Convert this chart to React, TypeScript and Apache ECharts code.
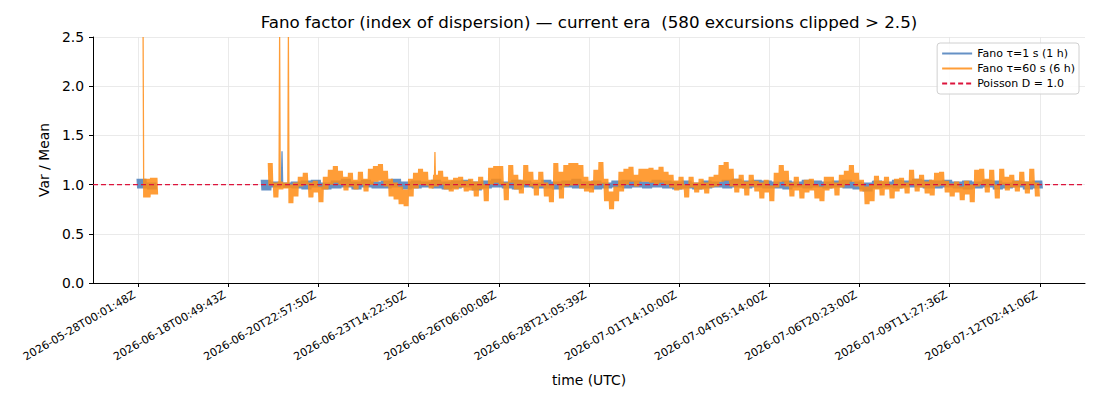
import React, { useEffect, useRef } from "react";
import * as echarts from "echarts";

// x tick labels (one every 90 samples, starting at sample 0)
const tickLabels = [
  "2026-05-28T00:01:48Z",
  "2026-06-18T00:49:43Z",
  "2026-06-20T22:57:50Z",
  "2026-06-23T14:22:50Z",
  "2026-06-26T06:00:08Z",
  "2026-06-28T21:05:39Z",
  "2026-07-01T14:10:00Z",
  "2026-07-04T05:14:00Z",
  "2026-07-06T20:23:00Z",
  "2026-07-09T11:27:36Z",
  "2026-07-12T02:41:06Z",
];
const tickStep = 90;

// Fano tau=1 s: upper / lower excursions per 10-sample block
const blueA_hi = [1.06, 1.02];
const blueA_lo = [0.96, 0.95];
const blueB_hi = [
  1.05, 1.03, 1.02, 1.03, 1.04, 1.05, 1.02, 1.04, 1.06, 1.03,
  1.05, 1.03, 1.04, 1.06, 1.03, 1.04, 1.03, 1.05, 1.03, 1.04,
  1.05, 1.03, 1.04, 1.06, 1.03, 1.05, 1.04, 1.02, 1.05, 1.03,
  1.04, 1.06, 1.03, 1.04, 1.02, 1.04, 1.05, 1.04, 1.03, 1.05,
  1.04, 1.03, 1.04, 1.02, 1.04, 1.03, 1.05, 1.06, 1.04, 1.05,
  1.04, 1.03, 1.04, 1.03, 1.05, 1.04, 1.03, 1.04, 1.05, 1.03,
  1.02, 1.04, 1.03, 1.05, 1.04, 1.06, 1.05, 1.04, 1.05, 1.03,
  1.04, 1.03, 1.05, 1.04, 1.02, 1.04, 1.03, 1.04,
];
const blueB_lo = [
  0.94, 0.97, 0.97, 0.96, 0.95, 0.97, 0.95, 0.96, 0.97, 0.95,
  0.97, 0.96, 0.96, 0.97, 0.95, 0.96, 0.97, 0.96, 0.95, 0.96,
  0.97, 0.94, 0.96, 0.97, 0.96, 0.95, 0.97, 0.96, 0.96, 0.95,
  0.97, 0.96, 0.96, 0.95, 0.96, 0.97, 0.96, 0.97, 0.96, 0.97,
  0.96, 0.95, 0.96, 0.95, 0.96, 0.97, 0.96, 0.97, 0.96, 0.97,
  0.96, 0.96, 0.95, 0.97, 0.96, 0.97, 0.96, 0.97, 0.96, 0.95,
  0.93, 0.96, 0.97, 0.96, 0.97, 0.97, 0.96, 0.96, 0.97, 0.96,
  0.95, 0.96, 0.97, 0.95, 0.96, 0.97, 0.95, 0.96,
];
const blueSpikeX = [143.625];
const blueSpikeY = [1.34];

// Fano tau=60 s: upper / lower excursions per 5-sample block
const orangeA_hi = [1.06, 1.07];
const orangeA_lo = [0.87, 0.9];
const orangeB_hi = [
  1.22, 1.02, 1.03, 1.02, 1.0, 1.02, 1.08, 1.12, 1.02, 1.04,
  0.98, 1.08, 1.15, 1.19, 1.14, 1.08, 1.12, 1.05, 1.13, 1.06,
  1.16, 1.19, 1.21, 1.14, 1.06, 1.02, 0.98, 0.95, 1.06, 1.12,
  1.16, 1.13, 1.05, 1.1, 1.14, 1.08, 1.05, 1.07, 1.08, 1.04,
  1.06, 1.03, 1.08, 1.0, 1.17, 1.19, 1.19, 1.02, 1.2, 1.1,
  1.05, 1.2, 1.13, 1.05, 1.13, 1.02, 1.0, 1.22, 1.13, 1.2,
  1.22, 1.22, 1.2, 1.08, 1.04, 1.15, 1.23, 1.06, 0.93, 0.98,
  1.13, 1.16, 1.18, 1.1, 1.16, 1.16, 1.17, 1.15, 1.18, 1.13,
  1.1, 1.04, 1.08, 1.0, 1.08, 1.02, 1.06, 1.02, 1.08, 1.1,
  1.2, 1.23, 1.16, 1.06, 1.1, 1.03, 1.1, 1.04, 1.02, 1.05,
  0.99, 1.12, 1.2, 1.14, 1.02, 1.08, 1.0, 1.05, 1.06, 1.0,
  0.98, 1.08, 1.08, 1.02, 1.1, 1.14, 1.2, 1.12, 1.05, 0.98,
  1.0, 1.09, 1.04, 1.08, 1.0, 1.06, 1.07, 1.02, 1.15, 1.06,
  1.1, 1.03, 1.05, 1.12, 1.13, 1.04, 1.01, 1.03, 0.98, 1.04,
  1.0, 1.15, 1.16, 1.06, 1.15, 1.0, 1.16, 1.08, 1.1, 1.04,
  1.13, 1.03, 1.16, 1.02,
];
const orangeB_lo = [
  0.99, 0.87, 0.95, 0.96, 0.81, 0.88, 0.98, 1.0, 0.87, 0.92,
  0.82, 0.95, 1.0, 1.02, 1.0, 0.94, 0.98, 0.95, 1.0, 0.93,
  1.0, 1.03, 1.04, 0.98, 0.88, 0.85, 0.8, 0.78, 0.88, 0.96,
  1.0, 0.99, 0.96, 0.98, 1.0, 0.95, 0.93, 0.95, 0.97, 0.93,
  0.94, 0.88, 0.95, 0.83, 1.0, 1.02, 1.0, 0.84, 1.02, 0.95,
  0.91, 1.0, 0.98, 0.89, 0.98, 0.88, 0.82, 1.0, 0.86, 0.98,
  0.99, 1.0, 0.96, 0.93, 0.92, 0.99, 1.01, 0.83, 0.75, 0.83,
  0.93, 1.0, 1.03, 0.98, 1.03, 1.03, 1.02, 1.0, 1.02, 1.0,
  0.97, 0.94, 0.95, 0.87, 0.97, 0.92, 0.95, 0.91, 0.97, 0.98,
  1.03, 1.04, 0.98, 0.92, 0.96, 0.89, 0.98, 0.93, 0.86, 0.92,
  0.83, 0.97, 1.03, 0.98, 0.88, 0.94, 0.86, 0.92, 0.94, 0.86,
  0.83, 0.94, 0.96, 0.89, 0.97, 1.0, 1.03, 0.98, 0.93, 0.8,
  0.83, 0.95, 0.89, 0.95, 0.86, 0.93, 0.96, 0.91, 1.0, 0.93,
  0.97, 0.91, 0.89, 0.98, 0.99, 0.92, 0.88, 0.92, 0.84, 0.9,
  0.82, 0.98, 1.0, 0.92, 0.99, 0.86, 1.0, 0.94, 0.97, 0.93,
  0.99, 0.91, 1.0, 0.88,
];
const orangeSpikeX = [5, 141.25, 150, 296.25];
const orangeSpikeY = [2.5, 2.5, 2.5, 1.33];

const poissonLevel = 1.0;

function band(
  start: number,
  width: number,
  hi: number[],
  lo: number[],
  spikeX: number[],
  spikeY: number[]
): number[][] {
  const pts: number[][] = [];
  const step = 0.625;
  const n = Math.round(width / step);
  for (let k = 0; k < hi.length; k++) {
    for (let j = 0; j < n; j++) {
      const x = start + k * width + j * step;
      let si = -1;
      for (let s = 0; s < spikeX.length; s++) {
        if (Math.abs(spikeX[s] - x) < step / 2) si = s;
      }
      const y = si >= 0 ? spikeY[si] : j % 2 === 0 ? hi[k] : lo[k];
      pts.push([x, y]);
    }
  }
  return pts;
}

const FONT = "DejaVu Sans";
const BLUE = "#4a7ebb";
const ORANGE = "#ff8c14";
const BLUE_NAME = "Fano τ=1 s (1 h)";
const ORANGE_NAME = "Fano τ=60 s (6 h)";
const POISSON_NAME = "Poisson D = 1.0";

export default function App() {
  const ref = useRef<HTMLDivElement>(null);
  useEffect(() => {
    if (!ref.current) return;
    const chart = echarts.init(ref.current, null, { renderer: "svg" });
    const ticks = tickLabels.map((_, i) => i * tickStep);
    const xMin = -tickStep / 2;
    const xMax = (tickLabels.length - 1) * tickStep + tickStep / 2;
    const lineBase = {
      type: "line",
      showSymbol: false,
      symbol: "none",
      silent: true,
      clip: true,
    };
    chart.setOption({
      animation: false,
      backgroundColor: "#ffffff",
      textStyle: { fontFamily: FONT },
      title: {
        text: "Fano factor (index of dispersion) — current era  (580 excursions clipped > 2.5)",
        left: 589,
        top: 13,
        textAlign: "center",
        padding: 0,
        textStyle: { fontFamily: FONT, fontSize: 16.7, fontWeight: "normal", color: "#000" },
      },
      legend: {
        orient: "vertical",
        right: 21,
        top: 43,
        data: [BLUE_NAME, ORANGE_NAME, POISSON_NAME],
        itemWidth: 30,
        itemHeight: 13,
        itemGap: 4,
        padding: [5, 4, 5, 4],
        borderColor: "#d0d0d0",
        borderWidth: 1,
        borderRadius: 3,
        backgroundColor: "rgba(255,255,255,0.85)",
        itemStyle: { opacity: 0 },
        textStyle: { fontFamily: FONT, fontSize: 11, color: "#000" },
      },
      grid: { left: 93, right: 15, top: 37, bottom: 117, containLabel: false },
      xAxis: {
        type: "value",
        min: xMin,
        max: xMax,
        name: "time (UTC)",
        nameLocation: "middle",
        nameGap: 90,
        nameTextStyle: { fontFamily: FONT, fontSize: 13.9, color: "#000" },
        axisLine: { show: true, onZero: false, lineStyle: { color: "#000", width: 1 } },
        axisTick: { show: true, length: 4, lineStyle: { color: "#000" }, customValues: ticks },
        axisLabel: {
          customValues: ticks,
          rotate: 30,
          margin: 9,
          padding: [0, 4, 0, 0],
          fontFamily: FONT,
          fontSize: 11,
          color: "#000",
          formatter: (v: number) => {
            const i = Math.round(v / tickStep);
            return tickLabels[i] ?? "";
          },
        },
        splitLine: { show: true, lineStyle: { color: "#e4e4e4", width: 0.8 } },
      },
      yAxis: {
        type: "value",
        min: 0,
        max: 2.5,
        interval: 0.5,
        name: "Var / Mean",
        nameLocation: "middle",
        nameGap: 32,
        nameTextStyle: { fontFamily: FONT, fontSize: 13.9, color: "#000" },
        axisLine: { show: true, onZero: false, lineStyle: { color: "#000", width: 1 } },
        axisTick: { show: true, length: 4, lineStyle: { color: "#000" } },
        axisLabel: {
          margin: 9,
          fontFamily: FONT,
          fontSize: 13.9,
          color: "#000",
          formatter: (v: number) => v.toFixed(1),
        },
        splitLine: { show: true, lineStyle: { color: "#e4e4e4", width: 0.8 } },
      },
      series: [
        {
          ...lineBase,
          name: BLUE_NAME,
          data: band(-1, 10, blueA_hi, blueA_lo, blueSpikeX, blueSpikeY),
          lineStyle: { color: BLUE, width: 1.3, opacity: 0.85 },
          itemStyle: { color: BLUE },
        },
        {
          ...lineBase,
          name: BLUE_NAME,
          data: band(123, 10, blueB_hi, blueB_lo, blueSpikeX, blueSpikeY),
          lineStyle: { color: BLUE, width: 1.3, opacity: 0.85 },
          itemStyle: { color: BLUE },
        },
        {
          ...lineBase,
          name: ORANGE_NAME,
          data: band(5, 7.5, orangeA_hi, orangeA_lo, orangeSpikeX, orangeSpikeY),
          lineStyle: { color: ORANGE, width: 1.3, opacity: 0.85 },
          itemStyle: { color: ORANGE },
        },
        {
          ...lineBase,
          name: ORANGE_NAME,
          data: band(130, 5, orangeB_hi, orangeB_lo, orangeSpikeX, orangeSpikeY),
          lineStyle: { color: ORANGE, width: 1.3, opacity: 0.85 },
          itemStyle: { color: ORANGE },
        },
        {
          ...lineBase,
          name: POISSON_NAME,
          data: [
            [xMin, poissonLevel],
            [xMax, poissonLevel],
          ],
          lineStyle: { color: "#dc143c", width: 1.3, type: [5, 3] },
          itemStyle: { color: "#dc143c" },
          z: 5,
        },
      ],
    });
    return () => chart.dispose();
  }, []);
  return (
    <div
      ref={ref}
      style={{ position: "fixed", left: 0, top: 0, width: 1100, height: 400, background: "#fff" }}
    />
  );
}
